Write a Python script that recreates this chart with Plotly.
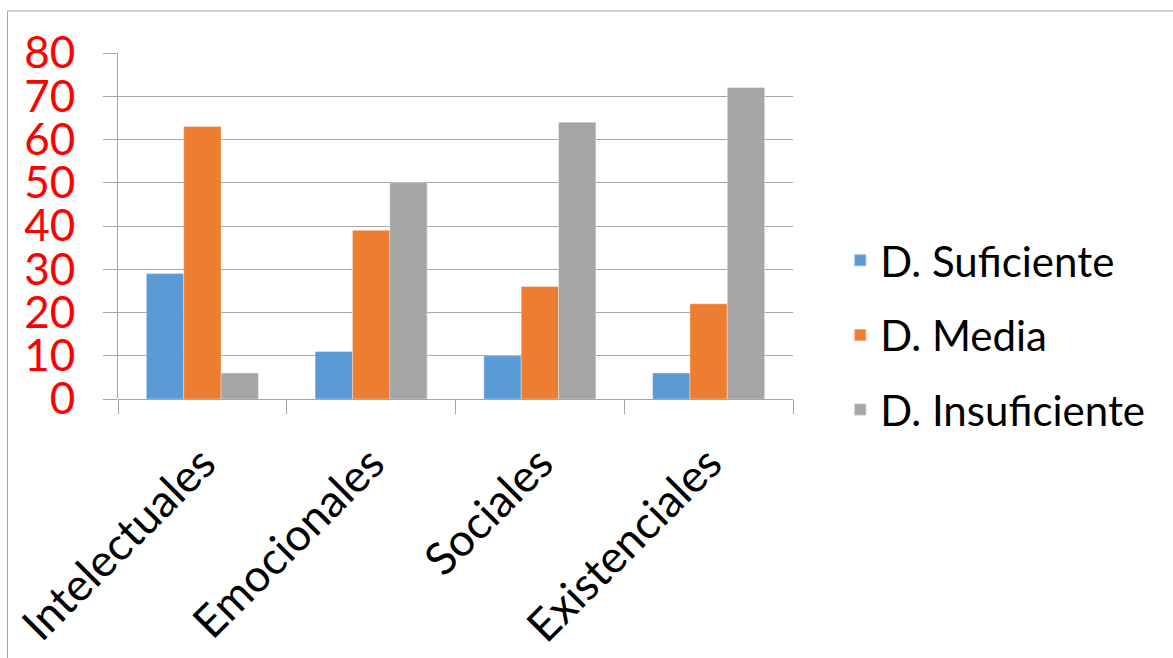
import plotly.graph_objects as go

categories = ["Intelectuales", "Emocionales", "Sociales", "Existenciales"]
series_names = ["D. Suficiente", "D. Media", "D. Insuficiente"]
suficiente = [29, 11, 10, 6]
media = [63, 39, 26, 22]
insuficiente = [6, 50, 64, 72]
y_ticks = [0, 10, 20, 30, 40, 50, 60, 70, 80]

colors = ["#5B9BD5", "#ED7D31", "#A5A5A5"]
values = [suficiente, media, insuficiente]

W, H = 1173, 658
L, R, T, B = 118, 793, 53, 399

fig = go.Figure()
for name, vals, col in zip(series_names, values, colors):
    fig.add_trace(go.Bar(
        x=categories, y=vals, name=name, legendgroup=name,
        marker=dict(color=col, line=dict(color="rgba(255,255,255,0.35)", width=1)),
    ))

grid = "#A6A6A6"
fig.update_layout(
    width=W, height=H,
    margin=dict(l=L, r=W - R, t=T, b=H - B, pad=0, autoexpand=False),
    paper_bgcolor="white", plot_bgcolor="white",
    font=dict(family="Lato, Calibri, sans-serif", color="black"),
    barmode="group", bargap=0.336, bargroupgap=0,
    showlegend=True,
    legend=dict(
        x=1.07, xanchor="left", y=0.185, yanchor="middle",
        font=dict(size=42, color="black"),
        tracegroupgap=17, itemsizing="constant",
        bgcolor="rgba(0,0,0,0)",
    ),
    xaxis=dict(
        showgrid=False, ticks="outside", tickson="boundaries", ticklen=14,
        tickcolor=grid, tickwidth=1, showline=False, automargin=False,
        tickangle=-45, tickfont=dict(size=45, color="black"),
        ticklabelstandoff=28,
    ),
    yaxis=dict(
        range=[0, 80], tickvals=y_ticks, showgrid=True, gridcolor=grid, gridwidth=1,
        zeroline=True, zerolinecolor=grid, zerolinewidth=1,
        showline=True, linecolor=grid, linewidth=1, automargin=False,
        ticks="outside", ticklen=14, tickcolor=grid, tickwidth=1,
        tickfont=dict(size=44, color="#FF0000"), ticklabelstandoff=19,
    ),
    shapes=[dict(
        type="rect", xref="paper", yref="paper",
        x0=(7.5 - L) / (R - L), x1=(1180 - L) / (R - L),
        y0=(B - 665) / (B - T), y1=(B - 11) / (B - T),
        line=dict(color=grid, width=1), fillcolor="rgba(0,0,0,0)", layer="below",
    )],
)

fig.write_html("out.html")
